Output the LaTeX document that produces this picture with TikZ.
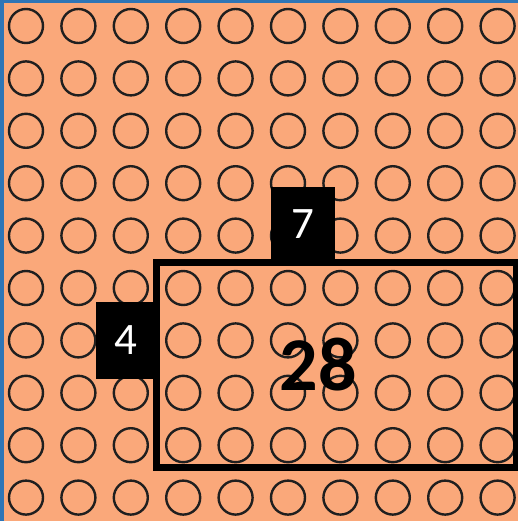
\documentclass[tikz,border=0pt]{standalone}
\usepackage{fontspec}
\setmainfont{Carlito}
\usepackage{xcolor}
\usetikzlibrary{positioning}
\definecolor{peach}{RGB}{250,168,122}
\definecolor{frameblue}{RGB}{46,117,182}

\begin{document}
\begin{tikzpicture}[
  x=1pt, y=-1pt,
  dot/.style={circle, draw=black!88, line width=2.4pt, minimum size=34pt, inner sep=0pt},
  tag/.style={fill=black, text=white, inner sep=0pt, outer sep=0pt, font=\fontsize{45}{45}\selectfont},
  area/.style={draw=black, line width=7pt, outer sep=0pt, minimum width=360pt, minimum height=205pt}
]
  \fill[peach] (0,0) rectangle (518,521);
  \useasboundingbox (0,0) rectangle (518,521);
  \fill[frameblue] (0,0) rectangle (4,521);
  \fill[frameblue] (0,0) rectangle (518,3);

  % grid of counters
  \foreach \r in {0,...,9}
    \foreach \c in {0,...,9}
      \node[dot] (c-\r-\c) at (26+52.4*\c, 26+52.4*\r) {};

  \node[area, anchor=north west] (block) at (156,262) {};
  \node[tag, minimum width=64pt, minimum height=75pt, above right=0pt and 115pt of block.north west] (width) {7};
  \node[tag, minimum width=60pt, minimum height=77pt, below left=40pt and 0pt of block.north west] (height) {4};
  \node[font=\bfseries\fontsize{76}{76}\selectfont, xshift=-18pt] (total) at (block.center) {28};
\end{tikzpicture}
\end{document}
